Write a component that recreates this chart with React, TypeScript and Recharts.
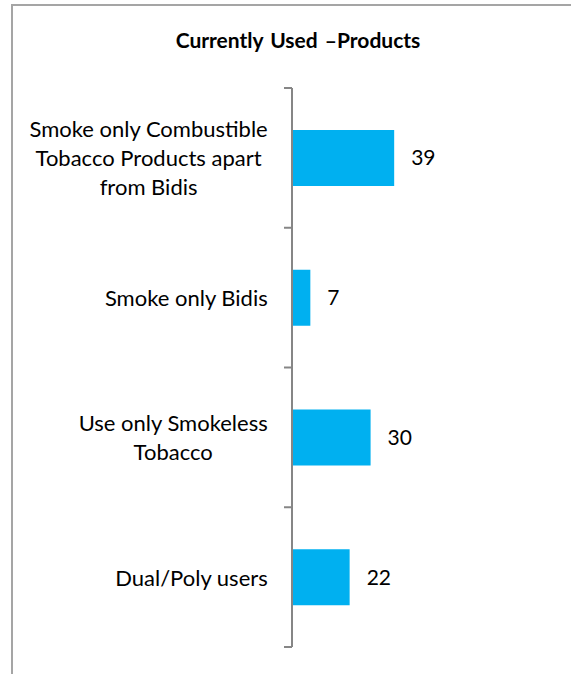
import { BarChart, Bar, XAxis, YAxis, LabelList } from "recharts"

const categories = [
  "Smoke only Combustible Tobacco Products apart from Bidis",
  "Smoke only Bidis",
  "Use only Smokeless Tobacco",
  "Dual/Poly users",
]
// how the category names wrap in the original
const tickLines = [
  ["Smoke only Combustible", "Tobacco Products apart", "from Bidis"],
  ["Smoke only Bidis"],
  ["Use only Smokeless", "Tobacco"],
  ["Dual/Poly users"],
]
const values = [39, 7, 30, 22]

const data = categories.map((name, i) => ({ name, value: values[i] }))

const W = 571
const H = 674
const AXIS_X = 292
const PLOT_TOP = 88
const PLOT_BOTTOM = 647
const FONT = "Lato, Carlito, Calibri, sans-serif"
const LABEL_RIGHT = 268
const LABEL_SIZE = 22
const AXIS_COLOR = "#868686"

let ctx: CanvasRenderingContext2D | null = null
function textWidth(s: string, size: number) {
  if (!ctx) ctx = document.createElement("canvas").getContext("2d")
  if (!ctx) return s.length * size * 0.5
  ctx.font = `${size}px ${FONT}`
  return ctx.measureText(s).width
}

function CategoryTick(props: any) {
  const { y, payload, index } = props
  const band = payload?.offset ? payload.offset * 2 : (PLOT_BOTTOM - PLOT_TOP) / categories.length
  const lines = tickLines[index] ?? [String(payload.value)]
  const block = Math.max(...lines.map(l => textWidth(l, LABEL_SIZE)))
  const cx = LABEL_RIGHT - block / 2
  const lh = 29
  return (
    <g>
      <line x1={AXIS_X - 8} x2={AXIS_X} y1={y - band / 2} y2={y - band / 2} stroke={AXIS_COLOR} strokeWidth={2} />
      {index === categories.length - 1 && (
        <line x1={AXIS_X - 8} x2={AXIS_X} y1={y + band / 2} y2={y + band / 2} stroke={AXIS_COLOR} strokeWidth={2} />
      )}
      {lines.map((l, i) => (
        <text
          key={i}
          x={cx}
          y={y + (i - (lines.length - 1) / 2) * lh}
          textAnchor="middle"
          dominantBaseline="central"
          fontSize={LABEL_SIZE}
          fontFamily={FONT}
          fill="#000"
        >
          {l}
        </text>
      ))}
    </g>
  )
}

export default function App() {
  return (
    <div style={{ position: "relative", width: W, height: H, background: "#fff", overflow: "hidden" }}>
      <style>{`body{margin:0}`}</style>
      {/* chart frame runs off the right and bottom edges */}
      <div
        style={{
          position: "absolute", left: 11, top: 4, width: W, height: H,
          border: "2px solid #a5a5a5", boxSizing: "border-box",
        }}
      />
      <div
        style={{
          position: "absolute", left: 0, top: 28, width: 596, textAlign: "center",
          fontFamily: FONT, fontWeight: 700, fontSize: 21, lineHeight: "24px",
          wordSpacing: 2, color: "#000",
        }}
      >
        Currently Used –Products
      </div>
      <div style={{ position: "absolute", left: 0, top: 0 }}>
        <BarChart
          width={W}
          height={H}
          data={data}
          layout="vertical"
          margin={{ top: PLOT_TOP, bottom: H - PLOT_BOTTOM, left: 0, right: 17 }}
          barCategoryGap="30%"
        >
          <XAxis type="number" domain={[0, 100]} hide />
          <YAxis
            type="category"
            dataKey="name"
            width={AXIS_X}
            axisLine={{ stroke: AXIS_COLOR, strokeWidth: 2 }}
            tickLine={false}
            tick={<CategoryTick />}
            interval={0}
          />
          <Bar dataKey="value" fill="#00b0f0" isAnimationActive={false}>
            <LabelList
              dataKey="value"
              position="right"
              offset={17}
              fill="#000"
              fontSize={21}
              fontFamily={FONT}
            />
          </Bar>
        </BarChart>
      </div>
    </div>
  )
}
